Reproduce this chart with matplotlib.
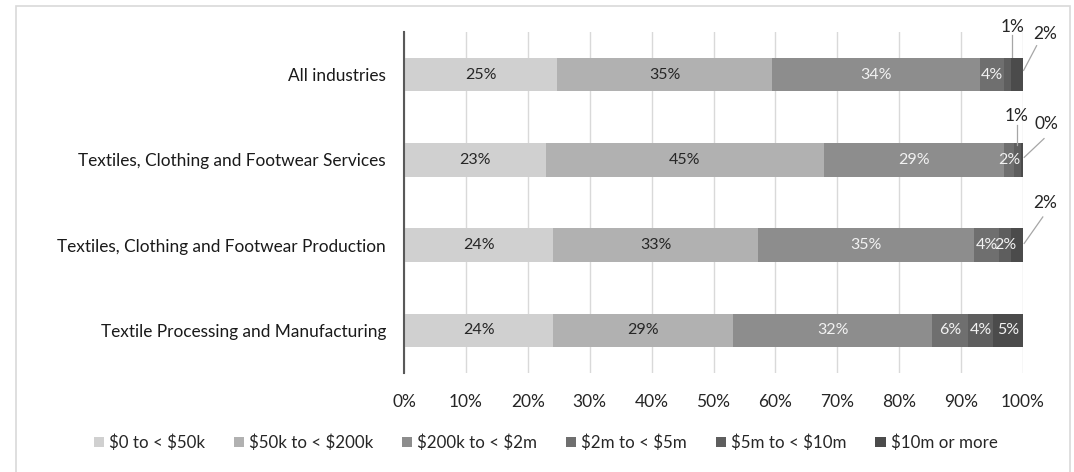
import numpy as np
import matplotlib.pyplot as plt
from matplotlib.patches import Rectangle

plt.rcParams['font.family'] = ['Lato', 'DejaVu Sans']
plt.rcParams['text.parse_math'] = False

industries = ["All industries",
              "Textiles, Clothing and Footwear Services",
              "Textiles, Clothing and Footwear Production",
              "Textile Processing and Manufacturing"]
bands = ["$0 to < $50k", "$50k to < $200k", "$200k to < $2m",
         "$2m to < $5m", "$5m to < $10m", "$10m or more"]
# share of businesses (%) per turnover band, one row per industry
shares = [
    [24.7, 34.8, 33.6, 3.9, 1.0, 2.0],
    [22.9, 45.0, 29.0, 1.7, 1.0, 0.4],
    [24.1, 33.1, 34.9, 4.0, 2.0, 1.9],
    [24.1, 29.1, 32.1, 5.8, 4.1, 4.8],
]
colors = ["#d0d0d0", "#b1b1b1", "#8d8d8d", "#6f6f6f", "#5e5e5e", "#4b4b4b"]
label_colors = ["#262626", "#262626", "#f2f2f2", "#f2f2f2", "#f2f2f2", "#f2f2f2"]

fig = plt.figure(figsize=(10.74, 4.72), dpi=100)
ax = fig.add_axes([0.3762, 0.21, 0.5763, 0.722])

# light frame round the chart area
fig.patches.append(Rectangle((16 / 1074, -0.05), 1054 / 1074, 1.05 - 6 / 472,
                             transform=fig.transFigure, fill=False,
                             edgecolor="#d9d9d9", linewidth=1.2))

# small segments labelled outside with leader lines: (row, band) -> text x, text y, line
callouts = {
    (0, 4): (98.3, -0.56, [(98.3, -0.47), (98.3, -0.18)]),
    (0, 5): (103.6, -0.48, [(102.2, -0.34), (100.1, -0.05)]),
    (1, 4): (99.0, 0.48, [(99.0, 0.59), (99.0, 0.83)]),
    (1, 5): (103.8, 0.58, [(103.4, 0.75), (100.2, 0.97)]),
    (2, 5): (103.6, 1.51, [(103.2, 1.67), (100.2, 1.98)]),
}

data = np.array(shares)
y = np.arange(len(industries))
left = np.zeros(len(industries))
for j, band in enumerate(bands):
    vals = data[:, j]
    ax.barh(y, vals, left=left, height=0.39, color=colors[j], label=band,
            edgecolor="none", zorder=2)
    for i, v in enumerate(vals):
        if (i, j) in callouts:
            tx, ty, line = callouts[(i, j)]
            ax.text(tx, ty, f"{v:.0f}%", ha="center", va="center", fontsize=12.5,
                    color="#262626", clip_on=False)
            (x0, y0), (x1, y1) = line
            ax.plot([x0, x1], [y0, y1], color="#a6a6a6", linewidth=0.9, clip_on=False)
        else:
            ax.text(left[i] + v / 2, y[i], f"{v:.0f}%", ha="center", va="center",
                    fontsize=11.5, color=label_colors[j], zorder=3)
    left += vals

ax.set_xlim(0, 100)
ax.set_ylim(3.5, -0.5)
ax.set_yticks(y)
ax.set_yticklabels(industries, fontsize=12.4, color="#1a1a1a")
ax.set_xticks(np.arange(0, 101, 10))
ax.set_xticklabels([f"{t}%" for t in range(0, 101, 10)], fontsize=12.5, color="#262626")
ax.tick_params(length=0)
ax.tick_params(axis="x", pad=15)
ax.tick_params(axis="y", pad=13)
ax.grid(axis="x", color="#d9d9d9", linewidth=1, zorder=0)
ax.set_axisbelow(True)
for s in ["top", "right", "bottom"]:
    ax.spines[s].set_visible(False)
ax.spines["left"].set_color("#595959")
ax.spines["left"].set_linewidth(1.5)
ax.spines["left"].set_zorder(4)

fig.legend(loc="center", bbox_to_anchor=(0.508, 0.062), ncol=6, frameon=False,
           fontsize=12.2, handlelength=0.6, handleheight=0.6, handletextpad=0.3,
           columnspacing=1.7, labelcolor="#262626")

fig.savefig("out.png", dpi=100)
